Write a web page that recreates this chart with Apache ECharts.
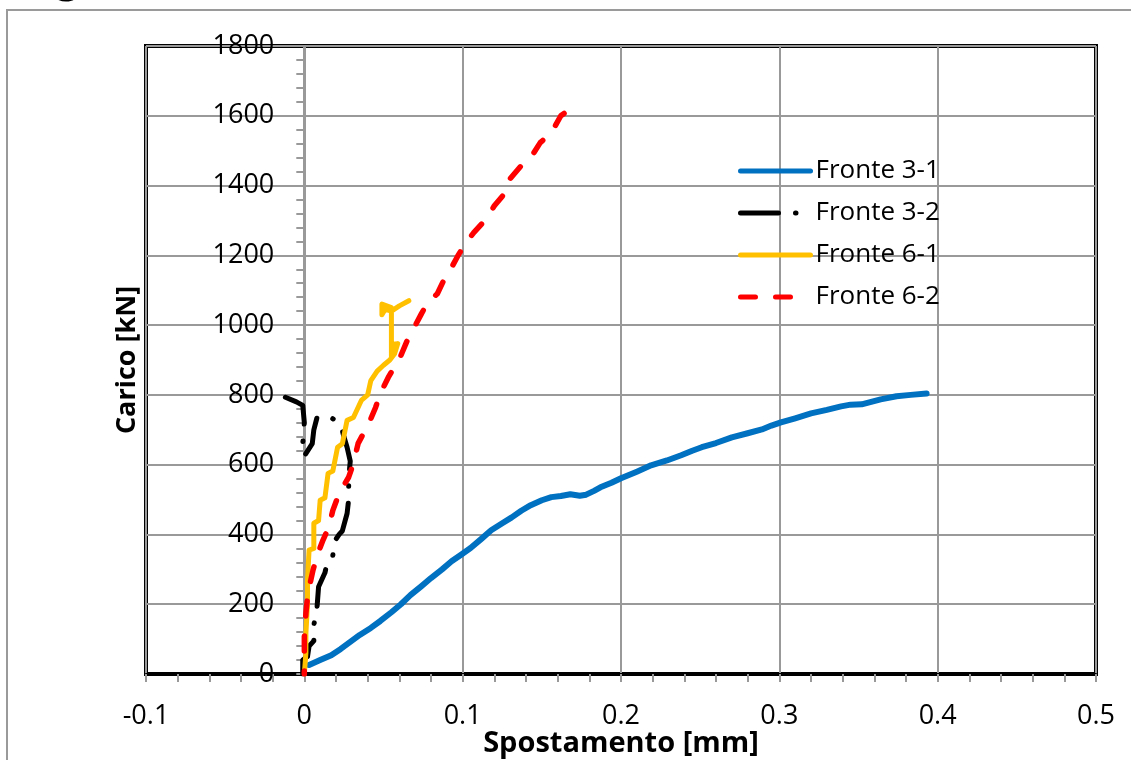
<!DOCTYPE html>
<html>
<head>
<meta charset="utf-8">
<script src="https://cdn.jsdelivr.net/npm/echarts@6/dist/echarts.min.js"></script>
<style>
html,body{margin:0;padding:0;background:#fff;}
#chart{width:1131px;height:760px;}
</style>
</head>
<body>
<div id="chart"></div>
<script>
// ---- Data ----
const seriesNames = ['Fronte 3-1', 'Fronte 3-2', 'Fronte 6-1', 'Fronte 6-2'];
const xTitle = 'Spostamento [mm]';
const yTitle = 'Carico [kN]';

// Fronte 3-1 [displacement mm, load kN]
const fronte31 = [
  [0.003,26],[0.010,40],[0.017,54],[0.023,72],[0.029,92],[0.035,112],[0.042,132],[0.048,152],
  [0.055,177],[0.061,200],[0.067,226],[0.074,252],[0.080,275],[0.087,300],[0.093,323],[0.099,342],
  [0.105,361],[0.112,388],[0.118,412],[0.125,432],[0.131,449],[0.137,468],[0.143,484],[0.150,498],
  [0.156,507],[0.162,510],[0.168,515],[0.174,511],[0.178,514],[0.183,525],[0.187,535],[0.194,548],
  [0.200,561],[0.210,580],[0.219,598],[0.229,612],[0.238,627],[0.245,640],[0.251,650],[0.260,662],
  [0.270,678],[0.280,690],[0.289,701],[0.295,712],[0.301,721],[0.310,733],[0.320,747],[0.330,757],
  [0.339,767],[0.345,772],[0.352,773],[0.358,780],[0.364,787],[0.374,796],[0.383,800],[0.393,804]
];
// Fronte 3-2
const fronte32 = [
  [-0.001,0],[-0.001,40],[0.002,50],[0.003,80],[0.006,95],[0.006,140],[0.008,190],[0.009,250],
  [0.013,290],[0.015,330],[0.018,340],[0.019,380],[0.022,400],[0.024,410],[0.027,460],[0.028,500],
  [0.028,560],[0.029,610],[0.027,650],[0.025,680],[0.023,715],[0.017,735],[0.011,738],[0.008,735],
  [0.006,700],[0.005,660],[0.000,625],[-0.001,660],[0.000,720],[-0.001,770],[-0.005,780],[-0.013,795]
];
// Fronte 6-1
const fronte61 = [
  [0,0],[0.001,60],[0.001,117],[0.002,200],[0.002,269],[0.003,355],[0.006,360],[0.006,432],
  [0.009,440],[0.010,498],[0.013,505],[0.015,575],[0.018,582],[0.021,650],[0.024,660],[0.027,727],
  [0.031,735],[0.036,784],[0.040,800],[0.042,841],[0.046,868],[0.050,885],[0.054,900],[0.057,918],
  [0.059,947],[0.056,945],[0.055,910],[0.055,1050],[0.049,1060],[0.049,1030],[0.051,1045],
  [0.055,1040],[0.060,1055],[0.066,1070]
];
// Fronte 6-2
const fronte62 = [
  [0,0],[0,31],[0,106],[0.001,175],[0.0023,232],[0.0055,298],[0.0086,346],[0.0118,384],
  [0.0155,421],[0.018,469],[0.022,518],[0.028,564],[0.031,604],[0.034,661],[0.041,721],[0.045,764],
  [0.048,804],[0.053,850],[0.061,913],[0.065,956],[0.069,990],[0.074,1033],[0.078,1065],[0.084,1090],
  [0.088,1128],[0.093,1165],[0.097,1199],[0.102,1236],[0.107,1265],[0.115,1305],[0.120,1342],
  [0.127,1380],[0.130,1420],[0.137,1457],[0.143,1480],[0.149,1523],[0.156,1551],[0.162,1600],[0.168,1620]
];

const FONT = '"Open Sans", "Liberation Sans", sans-serif';
const chart = echarts.init(document.getElementById('chart'), null, {renderer: 'canvas'});

function fmt(v) { return String(Math.round(v * 1000) / 1000); }

chart.setOption({
  backgroundColor: '#fff',
  animation: false,
  graphic: [
    {type: 'rect', z: -10, shape: {x: 7, y: 10, width: 1200, height: 800},
     style: {fill: 'none', stroke: '#9a9a9a', lineWidth: 2}},
    {type: 'arc', z: -10, shape: {cx: 66, cy: -18, r: 17, startAngle: 0.5, endAngle: Math.PI - 0.5},
     style: {fill: 'none', stroke: '#000', lineWidth: 5}}
  ],
  grid: {left: 146, right: 35, top: 46, bottom: 86, show: true, containLabel: false,
         outerBoundsMode: 'none',
         borderColor: '#000', borderWidth: 4, backgroundColor: 'transparent'},
  legend: {
    orient: 'vertical', left: 733, top: 153, itemWidth: 70, itemHeight: 20, itemGap: 16,
    textStyle: {fontFamily: FONT, fontSize: 26, color: '#000'},
    itemStyle: {opacity: 0},
    lineStyle: {width: 5, cap: 'round', dashOffset: 0},
    data: seriesNames
  },
  xAxis: {
    type: 'value', min: -0.1, max: 0.5, interval: 0.1,
    name: xTitle, nameLocation: 'middle', nameGap: 55, nameMoveOverlap: false,
    nameTextStyle: {fontFamily: FONT, fontSize: 29, fontWeight: 'bold', color: '#000'},
    axisLine: {onZero: false, lineStyle: {color: '#000', width: 3}},
    axisTick: {show: true, length: 8, lineStyle: {color: '#999', width: 2}},
    minorTick: {show: true, splitNumber: 5, length: 8, lineStyle: {color: '#999', width: 2}},
    axisLabel: {fontFamily: FONT, fontSize: 27, color: '#000', margin: 29, formatter: fmt},
    splitLine: {show: true, lineStyle: {color: '#999', width: 2}}
  },
  yAxis: {
    type: 'value', min: 0, max: 1800, interval: 200,
    offset: -157.3,
    name: yTitle, nameLocation: 'middle', nameGap: 162, nameMoveOverlap: false,
    nameTextStyle: {fontFamily: FONT, fontSize: 27, fontWeight: 'bold', color: '#000'},
    axisLine: {show: true, onZero: false, lineStyle: {color: '#999', width: 2}},
    axisTick: {show: true, length: 7, lineStyle: {color: '#999', width: 2}},
    minorTick: {show: true, splitNumber: 5, length: 7, lineStyle: {color: '#999', width: 2}},
    axisLabel: {fontFamily: FONT, fontSize: 27, color: '#000', margin: 29, formatter: fmt},
    splitLine: {show: true, lineStyle: {color: '#999', width: 2}}
  },
  series: [
    {name: seriesNames[0], type: 'line', data: fronte31, showSymbol: false, symbol: 'none',
     color: '#0070C0', lineStyle: {color: '#0070C0', width: 6, cap: 'round', join: 'round'}},
    {name: seriesNames[1], type: 'line', data: fronte32, showSymbol: false, symbol: 'none',
     color: '#000', lineStyle: {color: '#000', width: 5, type: [38, 17, 0.5, 17], cap: 'round', join: 'round'}},
    {name: seriesNames[2], type: 'line', data: fronte61, showSymbol: false, symbol: 'none',
     color: '#FFC000', lineStyle: {color: '#FFC000', width: 5, cap: 'round', join: 'round'}},
    {name: seriesNames[3], type: 'line', data: fronte62, showSymbol: false, symbol: 'none',
     color: '#FF0000', lineStyle: {color: '#FF0000', width: 5.5, type: [15, 20], dashOffset: 12, cap: 'round', join: 'round'}}
  ]
});
</script>
</body>
</html>
